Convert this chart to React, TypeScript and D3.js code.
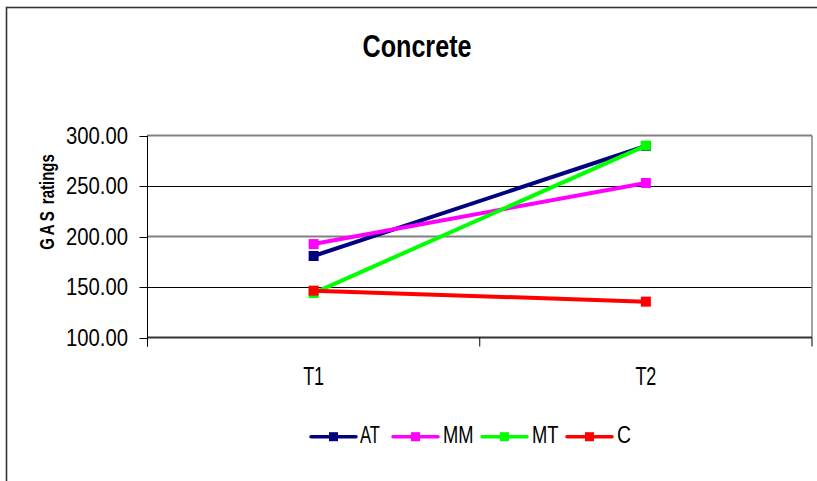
import React from "react";
import * as d3 from "d3";

const categories = ["T1", "T2"];
const seriesNames = ["AT", "MM", "MT", "C"];
const seriesColors = ["#000080", "#FF00FF", "#00FF00", "#FF0000"];
const atValues = [180.7, 289.6];
const mmValues = [192.5, 253.0];
const mtValues = [144.0, 290.0];
const cValues = [146.4, 135.5];
const yTicks = [100, 150, 200, 250, 300];
const title = "Concrete";
const yAxisTitleA = "GAS";
const yAxisTitleB = " ratings";

const seriesValues = [atValues, mmValues, mtValues, cValues];

export default function App() {
  const W = 817;
  const H = 481;
  const left = 147.5;
  const right = 812;
  const top = 135.5;
  const bottom = 337.5;

  const x = d3.scaleBand<string>().domain(categories).range([left, right]).padding(0);
  const y = d3.scaleLinear().domain([100, 300]).range([bottom, top]);
  const cx = (c: string) => (x(c) as number) + x.bandwidth() / 2;
  const line = d3
    .line<number>()
    .x((_, i) => cx(categories[i]))
    .y((v) => y(v));

  const font = "'Liberation Sans', Arial, sans-serif";
  const ms = 10;
  const crisp = (v: number) => Math.round(v) + 0.5;

  const legendItems = [
    { lx: 311, tx: 360, tw: 20 },
    { lx: 393, tx: 443, tw: 30.5 },
    { lx: 482, tx: 532, tw: 26.5 },
    { lx: 567, tx: 617, tw: 14 },
  ];
  const legY = 436.7;

  const catBoundaries = [left, ...categories.map((c) => (x(c) as number) + x.bandwidth())];

  return (
    <svg
      width={W}
      height={H}
      style={{ position: "absolute", left: 0, top: 0, background: "#fff" }}
      fontFamily={font}
    >
      <rect x={0} y={0} width={W} height={H} fill="#fff" />
      <rect x={6.5} y={7.5} width={W + 20} height={H + 20} fill="none" stroke="#333" strokeWidth={1.6} />

      <text x={417} y={57} textAnchor="middle" fontSize={31} fontWeight="bold" textLength={109} lengthAdjust="spacingAndGlyphs">
        {title}
      </text>

      {yTicks.map((t) => {
        if (t === 100) return null;
        const gray = t === 300 || t === 200;
        return (
          <line
            key={"g" + t}
            x1={left}
            x2={right}
            y1={gray ? y(t) : crisp(y(t))}
            y2={gray ? y(t) : crisp(y(t))}
            stroke={gray ? "#808080" : "#000"}
            strokeWidth={gray ? 2 : 1}
          />
        );
      })}
      <line x1={right} x2={right} y1={top} y2={bottom} stroke="#808080" strokeWidth={1.5} />

      <line x1={left} x2={left} y1={top} y2={bottom + 9} stroke="#000" strokeWidth={1} />
      {yTicks.map((t) => (
        <g key={"yt" + t}>
          <line x1={left - 8} x2={left} y1={crisp(y(t))} y2={crisp(y(t))} stroke="#000" strokeWidth={1} />
          <text x={128} y={y(t) + 8} textAnchor="end" fontSize={23} textLength={62} lengthAdjust="spacingAndGlyphs">
            {t.toFixed(2)}
          </text>
        </g>
      ))}

      <line x1={left} x2={right} y1={bottom} y2={bottom} stroke="#333" strokeWidth={2} />
      {catBoundaries.map((b, i) => (
        <line key={"xt" + i} x1={b} x2={b} y1={bottom} y2={bottom + 9} stroke="#000" strokeWidth={1} />
      ))}
      {categories.map((c) => (
        <text key={c} x={cx(c)} y={385} textAnchor="middle" fontSize={25} textLength={21} lengthAdjust="spacingAndGlyphs">
          {c}
        </text>
      ))}

      <text
        transform={`translate(53.5,202) rotate(-90) scale(0.75,1)`}
        textAnchor="middle"
        fontSize={20}
        fontWeight="bold"
      >
        <tspan letterSpacing={4}>{yAxisTitleA}</tspan>
        <tspan>{yAxisTitleB}</tspan>
      </text>

      {seriesValues.map((vals, si) => (
        <g key={"s" + si}>
          <path d={line(vals) || ""} fill="none" stroke={seriesColors[si]} strokeWidth={4} />
          {vals.map((v, i) => (
            <rect
              key={i}
              x={cx(categories[i]) - ms / 2}
              y={y(v) - ms / 2}
              width={ms}
              height={ms}
              fill={seriesColors[si]}
            />
          ))}
        </g>
      ))}

      {legendItems.map((it, si) => (
        <g key={"l" + si}>
          <line x1={it.lx} x2={it.lx + 45} y1={legY} y2={legY} stroke={seriesColors[si]} strokeWidth={3.5} strokeLinecap="round" />
          <rect x={it.lx + 22.5 - 4.5} y={legY - 4.5} width={9} height={9} fill={seriesColors[si]} />
          <text x={it.tx} y={legY + 6} fontSize={23} textLength={it.tw} lengthAdjust="spacingAndGlyphs">
            {seriesNames[si]}
          </text>
        </g>
      ))}
    </svg>
  );
}
